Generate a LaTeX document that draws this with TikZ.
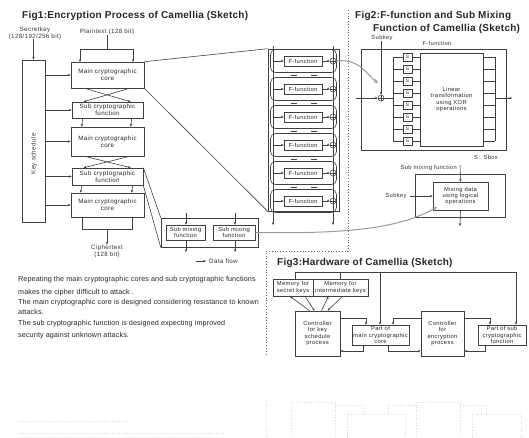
\documentclass[tikz,border=0pt]{standalone}
\usepackage{fontspec}
\setmainfont{Liberation Sans}
\newfontfamily\spcfont[LetterSpace=6]{Liberation Sans}
\newfontfamily\bodyfont[LetterSpace=1.5]{Liberation Sans}
\newfontfamily\titlefont[LetterSpace=2.5]{Liberation Sans}
\usetikzlibrary{arrows.meta,calc}
\newcommand{\smtext}{\spcfont\fontsize{6.2}{6.8}\selectfont}
\newcommand{\tinytext}{\spcfont\fontsize{5.8}{6.3}\selectfont}
\newcommand{\plaintiny}{\spcfont\fontsize{5.8}{6.6}\selectfont}
\begin{document}
\begin{tikzpicture}[x=1pt,y=-1pt,
  ln/.style={line width=0.6pt, draw=black!75},
  arr/.style={ln, -{Stealth[length=2.8pt,width=2.4pt]}},
  bx/.style={draw=black!75, line width=0.6pt, fill=white, inner sep=0pt, align=center, font=\smtext, text=black!85},
  lbl/.style={inner sep=0pt, font=\smtext, align=center, text=black!80},
  ttl/.style={inner sep=0pt, font=\titlefont\fontsize{10}{11}\selectfont\bfseries, anchor=west, text=black!85},
  bodytext/.style={inner sep=0pt, font=\bodyfont\fontsize{7.2}{8}\selectfont, anchor=west, text=black!85},
  grayarr/.style={line width=1pt, draw=black!40, -{Stealth[length=4.5pt,width=4pt]}},
  divider/.style={dotted, line width=0.8pt, draw=black!60},
  ghost/.style={dotted, line width=0.6pt, draw=black!14}
]
\fill[white] (0,0) rectangle (529,437);
\useasboundingbox (0,0) rectangle (529,437);

% ================= Fig 1 =================
\node[ttl] (t1) at (22,16) {Fig1:Encryption Process of Camellia (Sketch)};
\node[lbl] (sk) at (35,33) {Secretkey\\(128/192/256 bit)};
\node[lbl] (pt) at (107,32) {Plaintext (128 bit)};

\node[bx, minimum width=23pt, minimum height=162pt] (ks) at (33.5,141) {};
\node[lbl, rotate=90] (kslbl) at (34,154) {Key schedule};

\node[bx, minimum width=73pt, minimum height=26pt] (m1) at (107.5,75) {Main cryptographic\\core};
\node[bx, minimum width=71pt, minimum height=16pt] (s1) at (107.5,110) {Sub cryptographic\\function};
\node[bx, minimum width=73pt, minimum height=29pt] (m2) at (107.5,141.5) {Main cryptographic\\core};
\node[bx, minimum width=71pt, minimum height=17pt] (s2) at (107.5,176.5) {Sub cryptographic\\function};
\node[bx, minimum width=73pt, minimum height=24pt] (m3) at (107.5,205) {Main cryptographic\\core};
\node[lbl] (ct) at (107,251) {Ciphertext\\(128 bit)};

% secret key / plaintext inputs
\draw[arr] (ks.north |- sk.south) -- (ks.north);
\coordinate (ptj) at (107,49);
\draw[ln] (pt.south) -- (ptj);
\draw[ln] (80,49) -- (133,49);
\draw[arr] (80,49) -- (80 ,62);
\draw[arr] (133,49) -- (133,62);

% key schedule to rounds
\foreach \n in {m1,s1,m2,s2,m3} { \draw[arr] (ks.east |- \n.west) -- (\n.west); }

% crossings and vertical arrows
\draw[arr] ([xshift=14pt]m1.south west) -- ([xshift=59pt]s1.north west);
\draw[arr] ([xshift=59pt]m1.south west) -- ([xshift=12pt]s1.north west);
\draw[arr] ([xshift=11pt]s1.south west) -- ([xshift=11pt]m2.north west);
\draw[arr] ([xshift=60pt]s1.south west) -- ([xshift=60pt]m2.north west);
\draw[arr] ([xshift=14pt]m2.south west) -- ([xshift=59pt]s2.north west);
\draw[arr] ([xshift=59pt]m2.south west) -- ([xshift=12pt]s2.north west);
\draw[arr] ([xshift=10pt]s2.south west) -- ([xshift=10pt]m3.north west);
\draw[arr] ([xshift=61pt]s2.south west) -- ([xshift=61pt]m3.north west);

% bracket + ciphertext
\coordinate (brl) at (82,217);
\coordinate (brr) at (132,217);
\coordinate (brm) at (107,229);
\draw[ln] (brl) -- (82,229) -- (132,229) -- (brr);
\draw[arr] (brm) -- (ct.north);

% ---- F-function column ----
\node[draw=black!75, line width=0.6pt, minimum width=71pt, minimum height=162pt, inner sep=0pt] (fcol) at (303.5,130) {};
\draw[ln] (m1.north east) -- (fcol.north west);
\draw[ln] (m1.south east) -- (fcol.south west);

\foreach \k in {0,...,5} {
  \pgfmathsetmacro\yy{61+28*\k}
  \draw[ln, rounded corners=5pt] (270.5,\yy-11.5) rectangle (336.5,\yy+11.5);
}
\foreach \k in {0,...,4} {
  \pgfmathsetmacro\yy{61+28*\k}
  \draw[ln] (291,\yy+14) -- (297,\yy+14);
  \draw[ln] (311,\yy+14) -- (317,\yy+14);
}
\coordinate (fl1) at (273,46);
\coordinate (fl2) at (273,225);
\coordinate (fr1) at (333,46);
\coordinate (fr2) at (333,225);
\draw[arr] (fl1) -- (fl2);
\draw[arr] (fr1) -- (fr2);
\foreach \k in {0,...,5} {
  \pgfmathsetmacro\yy{61+28*\k}
  \node[bx, minimum width=38pt, minimum height=10pt, font=\tinytext] (f\k) at (303,\yy) {F-function};
  \node[circle, draw=black!75, line width=0.5pt, fill=white, minimum size=6pt, inner sep=0pt] (x\k) at (333,\yy) {};
  \draw[line width=0.5pt, black!75] (x\k.north) -- (x\k.south) (x\k.west) -- (x\k.east);
  \draw[arr] (fl1 |- f\k.west) -- (f\k.west);
  \draw[arr] (f\k.east) -- (x\k.west);
}

% ---- sub mixing functions (Fig1) ----
\node[draw=black!75, line width=0.6pt, minimum width=97pt, minimum height=29pt, inner sep=0pt] (smo) at (209.5,232.5) {};
\node[bx, minimum width=39pt, minimum height=15pt, font=\tinytext] (sm1) at (185.5,232.5) {Sub mixing\\function};
\node[bx, minimum width=42pt, minimum height=15pt, font=\tinytext] (sm2) at (234,232.5) {Sub mixing\\function};
\draw[ln] (s2.north east) -- (smo.north west);
\draw[ln] (s2.south east) -- (smo.south west);
\coordinate (a1) at (186,213);
\coordinate (a2) at (235,213);
\coordinate (b1) at (186,252);
\coordinate (b2) at (235,252);
\draw[arr] (a1) -- (a1 |- sm1.north);
\draw[arr] (a2) -- (a2 |- sm2.north);
\draw[arr] (a1 |- sm1.south) -- (b1);
\draw[arr] (a2 |- sm2.south) -- (b2);

% data flow legend
\coordinate (df1) at (196,261);
\coordinate (df2) at (206,261);
\draw[arr] (df1) -- (df2);
\node[lbl, anchor=west] (dfl) at (209,261) {Data flow};

% body text
\node[bodytext] (p1) at (18,280) {Repeating the main cryptographic cores and sub cryptographic functions};
\node[bodytext] (p2) at (18,292.5) {makes the cipher difficult to attack .};
\node[bodytext] (p3) at (18,303) {The main cryptographic core is designed considering resistance to known};
\node[bodytext] (p4) at (18,312) {attacks.};
\node[bodytext] (p5) at (18,324) {The sub cryptographic function is designed expecting improved};
\node[bodytext] (p6) at (18,336) {security against unknown attacks.};

% dotted dividers
\draw[divider] (348,10) -- (348,251) -- (266,251) -- (266,356);

% ================= Fig 2 =================
\node[ttl] (t2a) at (355,16) {Fig2:F-function and Sub Mixing};
\node[ttl] (t2b) at (373,28.5) {Function of Camellia (Sketch)};

\node[draw=black!75, line width=0.6pt, minimum width=145pt, minimum height=101pt, inner sep=0pt] (ffo) at (433.5,99.5) {};
\node[lbl, font=\tinytext] (subk) at (382,38) {Subkey};
\node[lbl, font=\tinytext] (ffl) at (437,43) {F-function};
\node[bx, minimum width=63pt, minimum height=93pt, font=\plaintiny] (lin) at (451.5,99.5) {Linear\\transformation\\using XOR\\operations};
\node[circle, draw=black!75, line width=0.5pt, fill=white, minimum size=6pt, inner sep=0pt] (fx) at (381,98) {};
\draw[line width=0.5pt, black!75] (fx.north) -- (fx.south) (fx.west) -- (fx.east);
\coordinate (fin) at (356,98);
\draw[arr] (fin) -- (fx.west);
\draw[arr] (subk.south -| fx.north) -- (fx.north);
\coordinate (busT) at (393,57);
\coordinate (busB) at (393,141);
\draw[ln] (fx.east) -- (busT |- fx.east);
\draw[ln] (busT) -- (busB);
\coordinate (rbT) at (495,57);
\coordinate (rbB) at (495,141);
\draw[ln] (rbT) -- (rbB);
\foreach \i in {0,...,7} {
  \pgfmathsetmacro\sy{57+12*\i}
  \node[bx, minimum width=9pt, minimum height=8pt, font=\fontsize{4.8}{5}\selectfont] (sb\i) at (407.5,\sy) {S};
  \draw[ln] (busT |- sb\i.west) -- (sb\i.west);
  \draw[ln] (sb\i.east) -- (lin.west |- sb\i.east);
  \draw[ln] (lin.east |- sb\i.east) -- (rbT |- sb\i.east);
}
\coordinate (fout) at (512,98);
\draw[arr] (rbT |- fout) -- (fout);
\node[lbl, font=\tinytext] (sbl) at (486,157) {S\,:\, Sbox};

% gray link from first XOR
\draw[grayarr] (x0.east) .. controls (360,58) and (368,76) .. (378,83);

% sub mixing function (Fig2)
\node[draw=black!75, line width=0.6pt, minimum width=90pt, minimum height=43pt, inner sep=0pt] (mo) at (460,195.5) {};
\node[bx, minimum width=55pt, minimum height=28pt, font=\tinytext] (mi) at (460.5,196) {Mixing data\\using logical\\operations};
\node[lbl, font=\tinytext, anchor=east] (sml) at (457,168) {Sub mixing function};
\coordinate (smin) at (460,165);
\draw[arr] (smin) -- (mi.north);
\node[lbl, font=\tinytext] (sk2) at (396,196) {Subkey};
\draw[arr] (sk2.east) ++(3,0) -- (mi.west);
\coordinate (mout) at (460,226);
\draw[arr] (mi.south) -- (mout);

% gray link from sub mixing function
\draw[grayarr] (sm2.east) .. controls (350,234) and (400,228) .. (437,207);

% ================= Fig 3 =================
\node[ttl] (t3) at (277,263) {Fig3:Hardware of Camellia (Sketch)};
\node[bx, minimum width=40pt, minimum height=17pt, font=\tinytext] (mem1) at (293,287.5) {Memory for\\secret keys};
\node[bx, minimum width=55pt, minimum height=17pt, font=\tinytext] (mem2) at (340.5,287.5) {Memory for\\intermediate keys};
\node[bx, minimum width=45pt, minimum height=45pt, font=\tinytext] (ck) at (317.5,333.5) {Controller\\for key\\schedule\\process};
\node[bx, minimum width=57pt, minimum height=20pt, font=\tinytext] (pm) at (380.5,335) {Part of\\main cryptographic\\core};
\node[bx, minimum width=43pt, minimum height=45pt, font=\tinytext] (ce) at (442.5,333.5) {Controller\\for\\encryption\\process};
\node[bx, minimum width=48pt, minimum height=20pt, font=\tinytext] (ps) at (502,335) {Part of sub\\cryptographic\\function};

% top bus
\coordinate (tb1) at (295,272);
\coordinate (tb2) at (340,272);
\coordinate (tb3) at (380,272);
\coordinate (tb4) at (516,272);
\draw[ln] (tb1) -- (tb4);
\draw[ln] (tb1) -- (tb1 |- mem1.north);
\draw[ln] (tb2) -- (tb2 |- mem2.north);
\draw[arr] (tb3) -- (tb3 |- pm.north);
\draw[arr] (tb4) -- (tb4 |- ps.north);

% memory <-> controller
\draw[arr] ([xshift=-8pt]ck.north) -- ([xshift=-3pt]mem1.south);
\draw[arr] ([xshift=12pt]mem1.south) -- ([xshift=-3pt]ck.north);
\draw[arr] ([xshift=4pt]ck.north) -- ([xshift=-12pt]mem2.south);
\draw[arr] ([xshift=2pt]mem2.south) -- ([xshift=10pt]ck.north);

% ladder connections
\coordinate (c1) at (366,318);
\coordinate (c2) at (393,318);
\coordinate (c3) at (490,318);
\draw[arr] (ck.east |- c1) -- (c1) -- (c1 |- pm.north);
\draw[arr] (ce.west |- c2) -- (c2) -- (c2 |- pm.north);
\draw[arr] (ce.east |- c3) -- (c3) -- (c3 |- ps.north);
\coordinate (d1) at (363,351);
\coordinate (d2) at (388,351);
\coordinate (d3) at (485,351);
\draw[arr] (d1 |- pm.south) -- (d1) -- (ck.east |- d1);
\draw[arr] (d2 |- pm.south) -- (d2) -- (ce.west |- d2);
\draw[arr] (d3 |- ps.south) -- (d3) -- (ce.east |- d3);

% faint ghost remnants at the bottom
\draw[ghost] (266,400) -- (266,437);
\draw[ghost] (18,421) -- (130,421);
\draw[ghost] (18,433) -- (225,433);
\draw[ghost] (291,402) rectangle (335,440);
\draw[ghost] (347,414) rectangle (405,440);
\draw[ghost] (416,402) rectangle (460,440);
\draw[ghost] (472,414) rectangle (521,440);
\draw[ghost] (335,405) -- (363,405) -- (363,414);
\draw[ghost] (388,414) -- (388,405) -- (416,405);
\draw[ghost] (460,405) -- (486,405) -- (486,414);
\end{tikzpicture}
\end{document}
